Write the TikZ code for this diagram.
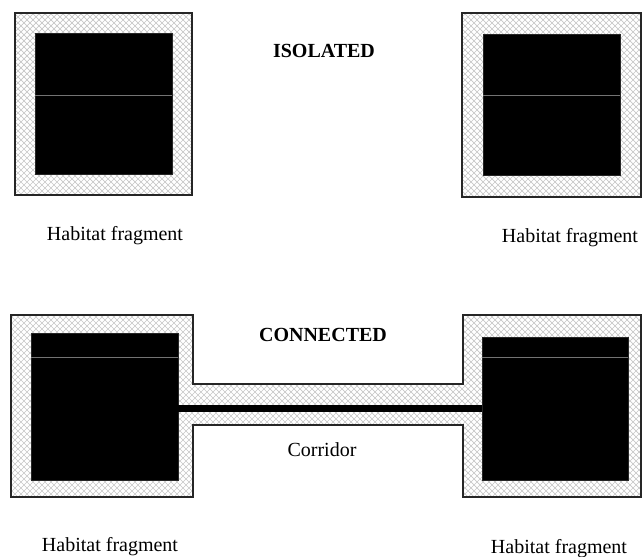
\documentclass[tikz,border=0pt]{standalone}
\usepackage{fontspec}
\setmainfont{Liberation Serif}
\usetikzlibrary{patterns, patterns.meta}

\tikzdeclarepattern{
  name=buffercross,
  type=uncolored,
  bounding box={(-3pt,-3pt) and (3pt,3pt)},
  tile size={(6pt,6pt)},
  code={\draw[line width=0.7pt] (-3pt,-3pt) -- (3pt,3pt) (-3pt,3pt) -- (3pt,-3pt);}
}

\begin{document}
\begin{tikzpicture}[x=1pt, y=-1pt,
    buffer/.style={pattern=buffercross, pattern color=gray!45, draw=black!85, line width=1.6pt},
    core/.style={fill=black, draw=black!85, line width=1pt},
    seam/.style={black!55, line width=0.8pt},
    lbl/.style={font=\fontsize{20}{24}\selectfont},
    title/.style={font=\fontsize{20}{24}\selectfont\bfseries}]

         \useasboundingbox (0,0) rectangle (643,557);

         % isolated fragments
         \draw[buffer] (15,13) rectangle (192,195);
         \draw[core] (35,33) rectangle (172,174);
         \draw[seam] (35,95) -- (172,95);
         \draw[buffer] (462,13) rectangle (641,197);
         \draw[core] (483,34) rectangle (620,175);
         \draw[seam] (483,95) -- (620,95);

         \node[title] (isolated) at (324,51) {ISOLATED};
         \node[lbl] (habTL) at (115,236) {Habitat fragment};
         \node[lbl] (habTR) at (570,238) {Habitat fragment};

         % connected fragments
         \draw[buffer] (11,315) -- (193,315) -- (193,384) -- (463,384) -- (463,315) -- (641,315)
               -- (641,497) -- (463,497) -- (463,425) -- (193,425) -- (193,497) -- (11,497) -- cycle;
         \draw[core] (31,333) rectangle (178,480);
         \draw[core] (482,337) rectangle (628,480);
         \fill (178,404.5) rectangle (482,411.5);
         \draw[seam] (31,357) -- (178,357);
         \draw[seam] (482,357) -- (628,357);

         \node[title] (connected) at (323,335) {CONNECTED};
         \node[lbl] (corridor) at (322,450) {Corridor};
         \node[lbl] (habBL) at (110,547) {Habitat fragment};
         \node[lbl] (habBR) at (559,549) {Habitat fragment};

\end{tikzpicture}
\end{document}
